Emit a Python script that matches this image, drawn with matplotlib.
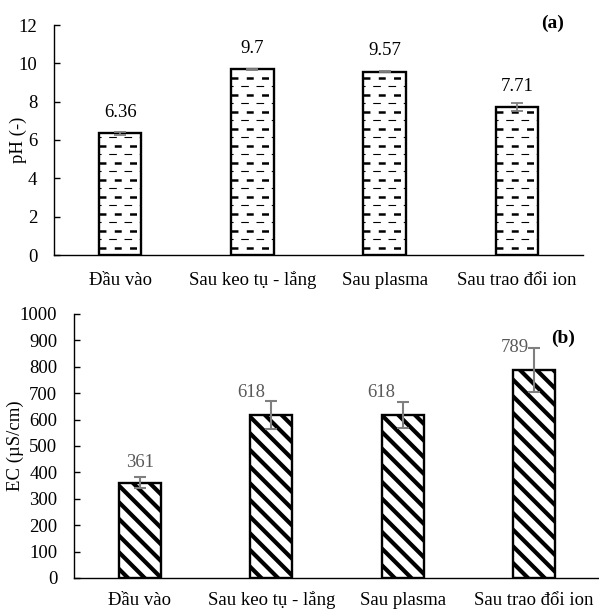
import matplotlib
matplotlib.use("Agg")
import matplotlib.pyplot as plt
import numpy as np

categories = ["Đầu vào", "Sau keo tụ - lắng", "Sau plasma", "Sau trao đổi ion"]
ph_values = [6.36, 9.70, 9.57, 7.71]
ph_errors = [0.08, 0.03, 0.04, 0.22]
ph_labels = ["6.36", "9.7", "9.57", "7.71"]
ec_values = [361, 618, 618, 789]
ec_errors = [21, 53, 50, 83]
ec_labels = ["361", "618", "618", "789"]

plt.rcParams["font.family"] = ["Liberation Serif", "DejaVu Serif"]
plt.rcParams["hatch.linewidth"] = 3.0
plt.rcParams["lines.scale_dashes"] = False

FS = 13.5
W, H = 599, 612
fig = plt.figure(figsize=(W / 100, H / 100), dpi=100)
ax1 = fig.add_axes([54 / W, 1 - 255 / H, 529 / W, 230 / H])
ax2 = fig.add_axes([74 / W, 1 - 578 / H, 526 / W, 264 / H])

x = np.arange(len(categories))
BW = 0.32
ERR = "#7f7f7f"


def style(ax, ymax, step, xpad):
    ax.set_xlim(-0.5, len(categories) - 0.5)
    ax.set_ylim(0, ymax)
    ax.set_yticks(np.arange(0, ymax + step / 2, step))
    ax.set_xticks(x)
    ax.set_xticklabels(categories, fontsize=FS)
    for s in ("top", "right"):
        ax.spines[s].set_visible(False)
    for s in ("left", "bottom"):
        ax.spines[s].set_linewidth(1.0)
    ax.tick_params(axis="y", direction="in", length=4, width=1, labelsize=FS, pad=12)
    ax.tick_params(axis="x", length=0, pad=xpad)
    for t in ax.get_xticklabels():
        t.set_va("baseline")


# --- (a) pH : motif de tirets horizontaux dessiné à la main
bars = ax1.bar(x, ph_values, BW, color="white", edgecolor="none", zorder=1)
ax1.bar(x, ph_values, BW, color="none", edgecolor="black", linewidth=1.7, zorder=3)
px = 230 / 12.0          # pixels par unité de pH
for b in bars:
    x0, x1 = b.get_x(), b.get_x() + b.get_width()
    top = b.get_height()
    k = 0
    while True:
        yt = (7.5 + 17 * k) / px
        yn = (16 + 17 * k) / px
        if yt > top:
            break
        ln, = ax1.plot([x0, x1], [yt, yt], color="black", lw=1.8,
                       ls=(0, (5.0, 6.0)), zorder=2)
        ln.set_clip_path(b)
        ln.set_dash_capstyle("butt")
        if yn < top:
            ln, = ax1.plot([x0, x1], [yn, yn], color="black", lw=0.8,
                           ls=(4.0, (5.5, 5.5)), zorder=2)
            ln.set_clip_path(b)
            ln.set_dash_capstyle("butt")
        k += 1
ax1.errorbar(x, ph_values, yerr=ph_errors, fmt="none", ecolor=ERR, elinewidth=1.3,
             capsize=4, capthick=1.3, zorder=4)
for xi, v, lab in zip(x, ph_values, ph_labels):
    ax1.annotate(lab, (xi, v), xytext=(0, 21), textcoords="offset pixels",
                 ha="center", va="center", fontsize=FS, color="black")
ax1.set_ylabel("pH (-)", fontsize=FS)
ax1.yaxis.label.set_va("center")
ax1.yaxis.set_label_coords(-(54 - 18) / 529, 0.5)
style(ax1, 12, 2, 21.6)
ax1.text(0.92, 1.009, "(a)", transform=ax1.transAxes, ha="left", va="center",
         fontsize=14, fontweight="bold")

# --- (b) EC : hachures diagonales épaisses
ax2.bar(x, ec_values, BW, color="white", edgecolor="black", hatch="\\\\",
        linewidth=1.7, zorder=2)
ax2.errorbar(x, ec_values, yerr=ec_errors, fmt="none", ecolor=ERR, elinewidth=1.5,
             capsize=4, capthick=1.5, zorder=4)
offsets = [(0, 20), (-20, 22), (-21, 22), (-19, 22)]
for xi, v, lab, off in zip(x, ec_values, ec_labels, offsets):
    ax2.annotate(lab, (xi, v), xytext=off, textcoords="offset pixels",
                 ha="center", va="center", fontsize=FS, color="#595959")
ax2.set_ylabel("EC (µS/cm)", fontsize=FS)
ax2.yaxis.label.set_va("center")
ax2.yaxis.set_label_coords(-(74 - 15) / 526, 0.5)
style(ax2, 1000, 100, 19.5)
ax2.text(0.907, 0.909, "(b)", transform=ax2.transAxes, ha="left", va="center",
         fontsize=14, fontweight="bold")

fig.savefig("out.png", dpi=100)
